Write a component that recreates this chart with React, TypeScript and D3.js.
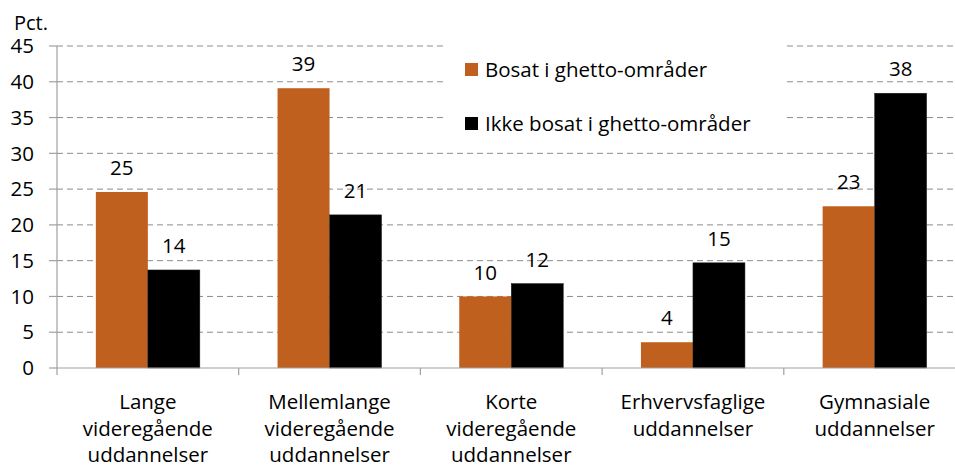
import React from "react";
import * as d3 from "d3";

const categories = [
  ["Lange", "videregående", "uddannelser"],
  ["Mellemlange", "videregående", "uddannelser"],
  ["Korte", "videregående", "uddannelser"],
  ["Erhvervsfaglige", "uddannelser"],
  ["Gymnasiale", "uddannelser"],
];
const seriesNames = ["Bosat i ghetto-områder", "Ikke bosat i ghetto-områder"];
const bosat = [24.6, 39.1, 10.0, 3.6, 22.6];
const ikkeBosat = [13.7, 21.4, 11.8, 14.7, 38.4];
const yTicks = [0, 5, 10, 15, 20, 25, 30, 35, 40, 45];
const colors = ["#C0601E", "#000000"];

const W = 955;
const H = 467;
const FONT = "'Open Sans', Lato, sans-serif";
const FS = 20.5;

export default function App() {
  const x0 = 57;
  const step = 181.7;
  const xScale = d3
    .scaleBand<number>()
    .domain(d3.range(categories.length))
    .range([x0, x0 + step * categories.length])
    .paddingInner(0)
    .paddingOuter(0);
  const y = d3.scaleLinear().domain([0, 45]).range([368, 46]);
  const barW = 52;
  const series = [bosat, ikkeBosat];

  return (
    <svg
      width={W}
      height={H}
      style={{ position: "absolute", left: 0, top: 0, background: "#fff" }}
      fontFamily={FONT}
    >
      {yTicks.slice(1).map((t) => (
        <line
          key={t}
          x1={x0}
          x2={W}
          y1={y(t)}
          y2={y(t)}
          stroke="#8c8c8c"
          strokeWidth={1}
          strokeDasharray="6,4"
        />
      ))}
      <rect x={446} y={38} width={338} height={102} fill="#fff" />
      {series.map((vals, si) =>
        vals.map((v, i) => {
          const cx = (xScale(i) as number) + xScale.bandwidth() / 2;
          const bx = cx - barW + si * barW;
          return (
            <g key={`${si}-${i}`}>
              <rect
                x={bx}
                y={y(v)}
                width={barW}
                height={y(0) - y(v)}
                fill={colors[si]}
                stroke={si === 1 ? "#222" : "none"}
                strokeWidth={0.5}
              />
              <text
                x={bx + barW / 2}
                y={y(v) - 24}
                dy="0.35em"
                textAnchor="middle"
                fontSize={FS}
                fill="#000"
              >
                {Math.round(v)}
              </text>
            </g>
          );
        })
      )}
      <line x1={x0} x2={x0} y1={y(45)} y2={y(0)} stroke="#a0a0a0" strokeWidth={1.2} />
      {yTicks.map((t) => (
        <g key={t}>
          <line x1={x0 - 8} x2={x0} y1={y(t)} y2={y(t)} stroke="#a0a0a0" strokeWidth={1.2} />
          <text
            x={34}
            y={y(t)}
            dy="0.35em"
            textAnchor="end"
            fontSize={FS}
            fill="#000"
          >
            {t}
          </text>
        </g>
      ))}
      <text x={14} y={30} fontSize={20} fill="#000">
        Pct.
      </text>
      <line x1={x0} x2={W} y1={y(0)} y2={y(0)} stroke="#a0a0a0" strokeWidth={1.2} />
      {d3.range(categories.length + 1).map((i) => (
        <line
          key={i}
          x1={x0 + step * i}
          x2={x0 + step * i}
          y1={y(0)}
          y2={y(0) + 7}
          stroke="#a0a0a0"
          strokeWidth={1.2}
        />
      ))}
      {categories.map((lines, i) => {
        const cx = (xScale(i) as number) + xScale.bandwidth() / 2;
        return (
          <text key={i} textAnchor="middle" fontSize={FS} fill="#000">
            {lines.map((l, j) => (
              <tspan key={j} x={cx} y={402 + j * 26.5} dy="0.35em">
                {l}
              </tspan>
            ))}
          </text>
        );
      })}
      {seriesNames.map((n, i) => (
        <g key={n}>
          <rect x={465} y={63 + i * 54} width={13} height={13} fill={colors[i]} />
          <text x={485} y={70 + i * 54} dy="0.35em" fontSize={FS} fill="#000">
            {n}
          </text>
        </g>
      ))}
    </svg>
  );
}
